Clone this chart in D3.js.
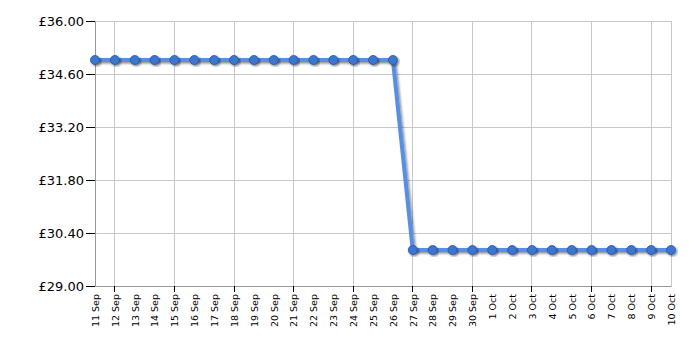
<!DOCTYPE html>
<html>
<head>
<meta charset="utf-8">
<script src="https://cdn.jsdelivr.net/npm/d3@7"></script>
<style>
  body { margin: 0; background: #fff; }
  svg { display: block; font-family: "DejaVu Sans", Verdana, sans-serif; }
</style>
</head>
<body>
<svg width="700" height="350"></svg>
<script>
var dates = ["11 Sep","12 Sep","13 Sep","14 Sep","15 Sep","16 Sep","17 Sep","18 Sep","19 Sep","20 Sep",
  "21 Sep","22 Sep","23 Sep","24 Sep","25 Sep","26 Sep","27 Sep","28 Sep","29 Sep","30 Sep",
  "1 Oct","2 Oct","3 Oct","4 Oct","5 Oct","6 Oct","7 Oct","8 Oct","9 Oct","10 Oct"];
var prices = [34.97,34.97,34.97,34.97,34.97,34.97,34.97,34.97,34.97,34.97,
  34.97,34.97,34.97,34.97,34.97,34.97,29.95,29.95,29.95,29.95,
  29.95,29.95,29.95,29.95,29.95,29.95,29.95,29.95,29.95,29.95];
var yTicks = [29.00, 30.40, 31.80, 33.20, 34.60, 36.00];

var margin = { top: 21, right: 29, bottom: 64, left: 95 };
var width = 700 - margin.left - margin.right;
var height = 350 - margin.top - margin.bottom;

var svg = d3.select("svg");

// soft shadow under line and points
var defs = svg.append("defs");
var f = defs.append("filter").attr("id", "shadow")
  .attr("x", "-20%").attr("y", "-20%").attr("width", "140%").attr("height", "140%");
f.append("feDropShadow").attr("dx", 1.5).attr("dy", 1.5)
  .attr("stdDeviation", 1).attr("flood-color", "#000").attr("flood-opacity", 0.45);

var g = svg.append("g").attr("transform", "translate(" + margin.left + "," + margin.top + ")");

var x = d3.scalePoint().domain(dates).range([0, width]);
var y = d3.scaleLinear().domain([29, 36]).range([height, 0]);

// horizontal grid
g.selectAll(".hgrid").data(yTicks).enter().append("line")
  .attr("x1", 0).attr("x2", width)
  .attr("y1", d => y(d)).attr("y2", d => y(d))
  .attr("stroke", "#c8c8c8").attr("stroke-width", 1)
  .attr("shape-rendering", "crispEdges");

// vertical grid every 3 days from 12 Sep
var gridDates = dates.filter((d, i) => i % 3 === 1);
g.selectAll(".vgrid").data(gridDates).enter().append("line")
  .attr("x1", d => x(d)).attr("x2", d => x(d))
  .attr("y1", 0).attr("y2", height)
  .attr("stroke", "#c8c8c8").attr("stroke-width", 1)
  .attr("shape-rendering", "crispEdges");

// right border
g.append("line").attr("x1", width).attr("x2", width).attr("y1", 0).attr("y2", height)
  .attr("stroke", "#c8c8c8").attr("shape-rendering", "crispEdges");

// Y axis
var yAxis = g.append("g")
  .call(d3.axisLeft(y).tickValues(yTicks).tickSize(9).tickPadding(2)
    .tickFormat(d => "£" + d3.format(".2f")(d)));
yAxis.select(".domain").attr("stroke", "#999");
yAxis.selectAll(".tick line").attr("stroke", "#000");
yAxis.selectAll("text").attr("font-size", 13).attr("fill", "#000")
  .attr("font-family", "\"DejaVu Sans\", Verdana, sans-serif");

// X axis
var xAxis = g.append("g").attr("transform", "translate(0," + height + ")")
  .call(d3.axisBottom(x).tickSize(0).tickPadding(0));
xAxis.select(".domain").attr("stroke", "#999");
xAxis.selectAll("text")
  .attr("font-size", 9.5).attr("fill", "#000")
  .attr("font-family", "\"DejaVu Sans\", Verdana, sans-serif")
  .style("text-anchor", "end")
  .attr("dx", "-8px").attr("dy", "0.35em")
  .attr("transform", "rotate(-90)");

// x tick marks every 3 days
g.selectAll(".xtick").data(gridDates).enter().append("line")
  .attr("x1", d => x(d)).attr("x2", d => x(d))
  .attr("y1", height).attr("y2", height + 6)
  .attr("stroke", "#000").attr("shape-rendering", "crispEdges");

// line
var line = d3.line().x((d, i) => x(dates[i])).y(d => y(d));
g.append("path").datum(prices)
  .attr("d", line)
  .attr("fill", "none")
  .attr("stroke", "#568fe4")
  .attr("stroke-width", 4)
  .attr("stroke-linejoin", "round")
  .attr("filter", "url(#shadow)");

// points
g.selectAll(".pt").data(prices).enter().append("circle")
  .attr("cx", (d, i) => x(dates[i]))
  .attr("cy", d => y(d))
  .attr("r", 4.5)
  .attr("fill", "#3d76cf")
  .attr("stroke", "#28539e")
  .attr("stroke-width", 0.8)
  .attr("filter", "url(#shadow)");
</script>
</body>
</html>
